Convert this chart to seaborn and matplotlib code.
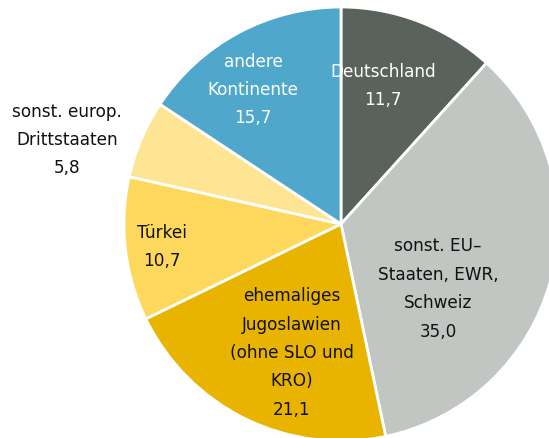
import seaborn as sns
import matplotlib.pyplot as plt

# Data: Anteile nach Herkunft (Prozent)
regions = ["Deutschland", "sonst. EU–\nStaaten, EWR,\nSchweiz", "ehemaliges\nJugoslawien\n(ohne SLO und\nKRO)",
           "Türkei", "sonst. europ.\nDrittstaaten", "andere\nKontinente"]
shares = [11.7, 35.0, 21.1, 10.7, 5.8, 15.7]
colors = ["#5a625c", "#c1c6c2", "#e8b400", "#fdd85c", "#fde593", "#4fa8cb"]
text_colors = ["white", "#111111", "#111111", "#111111", "#111111", "white"]

# label centres in pixel coords of the 549x439 picture
label_px = [(383, 86), (438, 289), (292, 353), (162, 247), (67, 140), (253, 90)]

sns.set_theme(style="white")
plt.rcParams["font.family"] = ["DejaVu Sans"]

fig = plt.figure(figsize=(5.49, 4.39), dpi=100)
ax = fig.add_axes([0, 0, 1, 1])

cx, cy, r = 341, 225, 217
ax.pie(shares, colors=colors, startangle=90, counterclock=False, radius=r,
       center=(0, 0), wedgeprops=dict(edgecolor="white", linewidth=2))

for name, val, (px, py), tc in zip(regions, shares, label_px, text_colors):
    txt = name + "\n" + f"{val:.1f}".replace(".", ",")
    ax.text(px - cx, cy - py, txt, ha="center", va="center", color=tc,
            fontsize=12.2, linespacing=1.74)

ax.set_xlim(-cx, 549 - cx)
ax.set_ylim(-(439 - cy), cy)
ax.set_aspect("equal")
ax.axis("off")

fig.savefig("out.png", dpi=100)
